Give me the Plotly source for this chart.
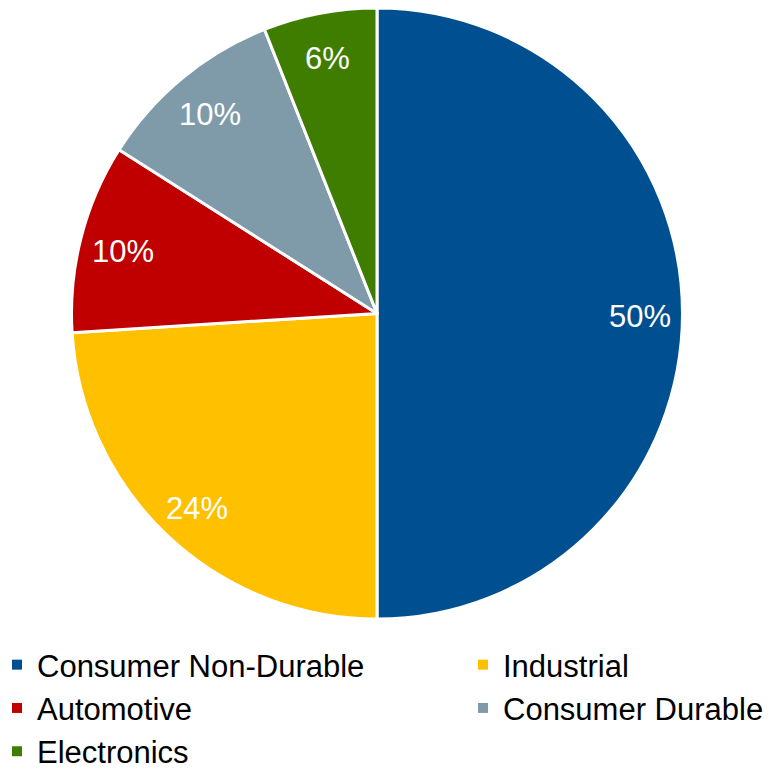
import math
import plotly.graph_objects as go

categories = ["Consumer Non-Durable", "Industrial", "Automotive", "Consumer Durable", "Electronics"]
values = [50, 24, 10, 10, 6]
colors = ["#005091", "#FFC000", "#C00000", "#7F9BAA", "#3F7D00"]

# the page body adds an 8px offset; coordinates below are figure pixels
W, H = 766, 764
cx, cy, r = 369, 305.5, 305.5
FONT = "Liberation Sans"

fig = go.Figure()
fig.add_trace(go.Pie(
    labels=categories,
    values=values,
    sort=False,
    direction="clockwise",
    rotation=0,
    marker=dict(colors=colors, line=dict(color="white", width=3)),
    textinfo="none",
    hoverinfo="label+percent",
    showlegend=False,
    domain=dict(x=[max(0, (cx - r) / W), min(1, (cx + r) / W)],
                y=[max(0, (H - cy - r) / H), min(1, (H - cy + r) / H)]),
))

# legend entries (row-major in two columns)
for i, (cat, col) in enumerate(zip(categories, colors)):
    fig.add_trace(go.Scatter(
        x=[None], y=[None], mode="markers", name=cat,
        marker=dict(symbol="square", size=10, color=col),
        legend="legend" if i % 2 == 0 else "legend2",
        hoverinfo="skip",
    ))

total = sum(values)
annotations = []
cum = 0
for v in values:
    mid = (cum + v / 2) / total * 2 * math.pi
    cum += v
    px = cx + 0.86 * r * math.sin(mid)
    py = cy - 0.86 * r * math.cos(mid)
    annotations.append(dict(
        x=px / W, y=1 - py / H, xref="paper", yref="paper",
        xanchor="center", yanchor="middle", yshift=-3,
        text=f"{round(v / total * 100)}%", showarrow=False,
        font=dict(family=FONT, size=31, color="white"),
    ))

legend_common = dict(
    orientation="v", xanchor="left", yanchor="top",
    font=dict(family=FONT, size=31, color="black"),
    itemclick=False, itemdoubleclick=False,
    bgcolor="rgba(0,0,0,0)",
)

fig.update_layout(
    width=W, height=H,
    margin=dict(l=0, r=0, t=0, b=0, autoexpand=False),
    paper_bgcolor="white",
    plot_bgcolor="white",
    xaxis=dict(visible=False),
    yaxis=dict(visible=False),
    annotations=annotations,
    showlegend=True,
    legend=dict(x=-11 / W, y=1 - 630 / H, **legend_common),
    legend2=dict(x=455 / W, y=1 - 630 / H, **legend_common),
)

fig.write_html("out.html")
